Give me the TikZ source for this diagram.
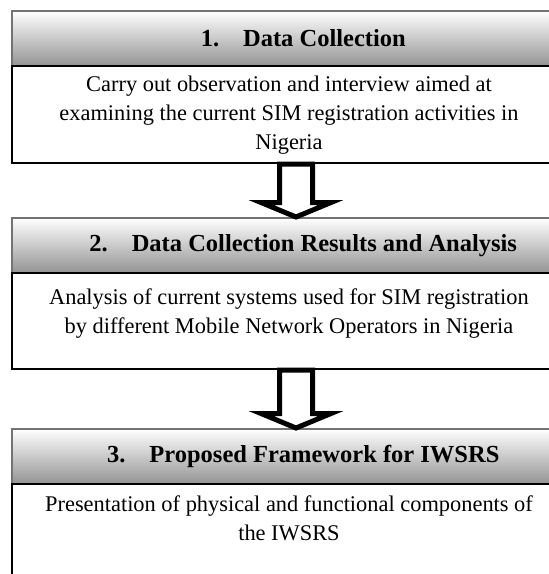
\documentclass[tikz,border=0pt]{standalone}
\usepackage{fontspec}
\setmainfont{Liberation Serif}
\usetikzlibrary{calc}

\begin{document}
\begin{tikzpicture}[x=1pt,y=-1pt,
  hdr/.style={draw=black!55,line width=1.5pt,top color=white,bottom color=black!42,
    minimum width=549pt,minimum height=55pt,anchor=north west,inner sep=0pt,
    font=\fontsize{24.5}{28}\selectfont\bfseries},
  txtbox/.style={draw=black,line width=2pt,fill=white,minimum width=549pt,
    anchor=north west,inner sep=0pt,align=center,
    font=\fontsize{22.4}{29}\selectfont},
  blockarrow/.style={draw=black,fill=white,line width=5pt,line join=miter}]
\useasboundingbox (0,0) rectangle (549,574);
\coordinate (ax) at (296,0);
\node[hdr] (h1) at (11,10) {\hspace*{34pt}1.\hspace{24pt}Data Collection};
\node[txtbox,minimum height=97pt] (b1) at (11,65) {\hspace*{5pt}\begin{tabular}{@{}c@{}}Carry out observation and interview aimed at\\examining the current SIM registration activities in\\Nigeria\end{tabular}};
\node[hdr] (h2) at (11,217) {\hspace*{34pt}2.\hspace{24pt}Data Collection Results and Analysis};
\node[txtbox,minimum height=96pt] (b2) at (11,272) {\hspace*{5pt}\begin{tabular}{@{}c@{}}Analysis of current systems used for SIM registration\\by different Mobile Network Operators in Nigeria\\[-14pt]\mbox{}\end{tabular}};
\node[hdr] (h3) at (11,428) {\hspace*{34pt}3.\hspace{24pt}Proposed Framework for IWSRS};
\node[txtbox,minimum height=120pt] (b3) at (11,483) {\hspace*{5pt}\begin{tabular}{@{}c@{}}Presentation of physical and functional components of\\the IWSRS\\\mbox{}\\[-10pt]\mbox{}\end{tabular}};
% arrows between the steps
\coordinate (t1) at (ax |- h2.north);
\draw[blockarrow] ($(ax |- b1.south)+(-16.5,0)$) |- ($(t1)+(-35,-14.5)$) -- (t1)
  -- ($(t1)+(35,-14.5)$) -| ($(ax |- b1.south)+(16.5,0)$) -- cycle;
\coordinate (t2) at (ax |- h3.north);
\draw[blockarrow] ($(ax |- b2.south)+(-16.5,0)$) |- ($(t2)+(-35,-14.5)$) -- (t2)
  -- ($(t2)+(35,-14.5)$) -| ($(ax |- b2.south)+(16.5,0)$) -- cycle;
\end{tikzpicture}
\end{document}
